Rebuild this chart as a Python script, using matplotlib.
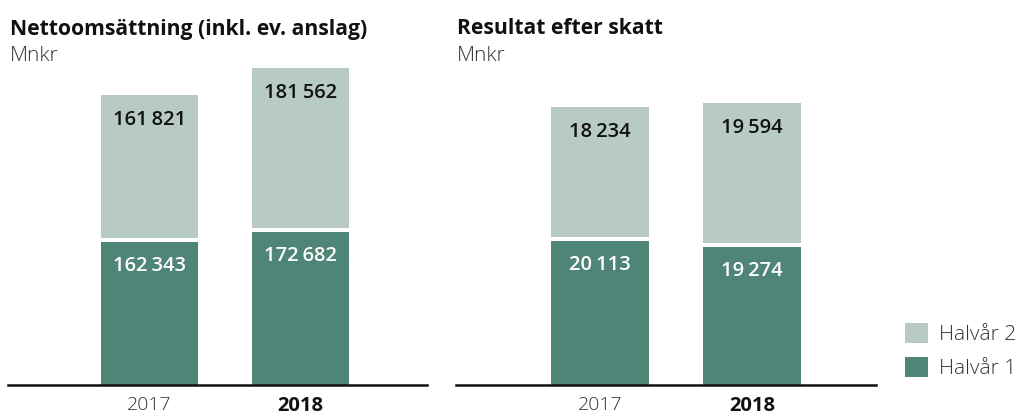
import matplotlib
matplotlib.use("Agg")
import matplotlib.pyplot as plt
from matplotlib.patches import Patch

# ---- data ----
years = ["2017", "2018"]
net_h1 = [162343, 172682]
net_h2 = [161821, 181562]
res_h1 = [20113, 19274]
res_h2 = [18234, 19594]
titles = ["Nettoomsättning (inkl. ev. anslag)", "Resultat efter skatt"]
unit = "Mnkr"
legend_labels = ["Halvår 2", "Halvår 1"]

DARK = "#4f8577"
LIGHT = "#b8cac4"
FONT = "Open Sans"
plt.rcParams["font.family"] = [FONT, "DejaVu Sans"]

W, H = 1020, 417
fig = plt.figure(figsize=(W / 100, H / 100), dpi=100)


def fmt(v):
    return f"{v:,}".replace(",", "\u2009")


def px(x0, y_top, w, h):
    return [x0 / W, (H - y_top - h) / H, w / W, h / H]


panels = [
    (net_h1, net_h2, 363500, px(8, 60, 419, 324.5), 10, titles[0], (-0.937, 1.838)),
    (res_h1, res_h2, 44800, px(456, 60, 420, 324.5), 457, titles[1], (-0.947, 1.816)),
]

bar_w = 0.642
for h1, h2, ymax, rect, tx, title, xl in panels:
    ax = fig.add_axes(rect)
    xs = list(range(len(years)))
    ax.bar(xs, h1, width=bar_w, color=DARK, linewidth=0)
    ax.bar(xs, h2, bottom=h1, width=bar_w, color=LIGHT, linewidth=0)
    ax.hlines(h1, [x - bar_w / 2 for x in xs], [x + bar_w / 2 for x in xs],
              color="white", lw=2.9)
    for x, a, b in zip(xs, h1, h2):
        ax.annotate(fmt(a), (x, a), xytext=(0, -26), textcoords="offset pixels",
                    ha="center", va="center", color="white", fontsize=14.5,
                    fontweight="semibold")
        ax.annotate(fmt(b), (x, a + b), xytext=(0, -25), textcoords="offset pixels",
                    ha="center", va="center", color="#111111", fontsize=14.5,
                    fontweight="semibold")
    ax.set_xlim(*xl)
    ax.set_ylim(0, ymax)
    ax.set_xticks(xs)
    ax.set_xticklabels(years, fontsize=14)
    lbls = ax.get_xticklabels()
    lbls[0].set_color("#333333")
    lbls[0].set_fontweight("light")
    lbls[0].set_fontsize(14)
    lbls[1].set_color("#111111")
    lbls[1].set_fontweight("bold")
    lbls[1].set_fontsize(14.5)
    ax.tick_params(axis="x", length=0, pad=8)
    ax.set_yticks([])
    for s in ["left", "right", "top"]:
        ax.spines[s].set_visible(False)
    ax.spines["bottom"].set_linewidth(1.8)
    ax.spines["bottom"].set_color("#111111")
    fig.text(tx / W, (H - 34.5) / H, title, fontsize=15.2, fontweight="bold",
             color="#111111", va="baseline", ha="left")
    fig.text(tx / W, (H - 61) / H, unit, fontsize=15, fontweight="light",
             color="#333333", va="baseline", ha="left")

handles = [Patch(facecolor=LIGHT, edgecolor="none"), Patch(facecolor=DARK, edgecolor="none")]
fig.legend(handles, legend_labels, loc="upper left", bbox_to_anchor=(905 / W, (H - 323) / H),
           frameon=False, handlelength=1.1, handleheight=1.1,
           labelspacing=0.55, handletextpad=0.55, borderpad=0, borderaxespad=0,
           labelcolor="#333333", prop={"family": FONT, "weight": "light", "size": 15})

fig.savefig("out.png", dpi=100)
